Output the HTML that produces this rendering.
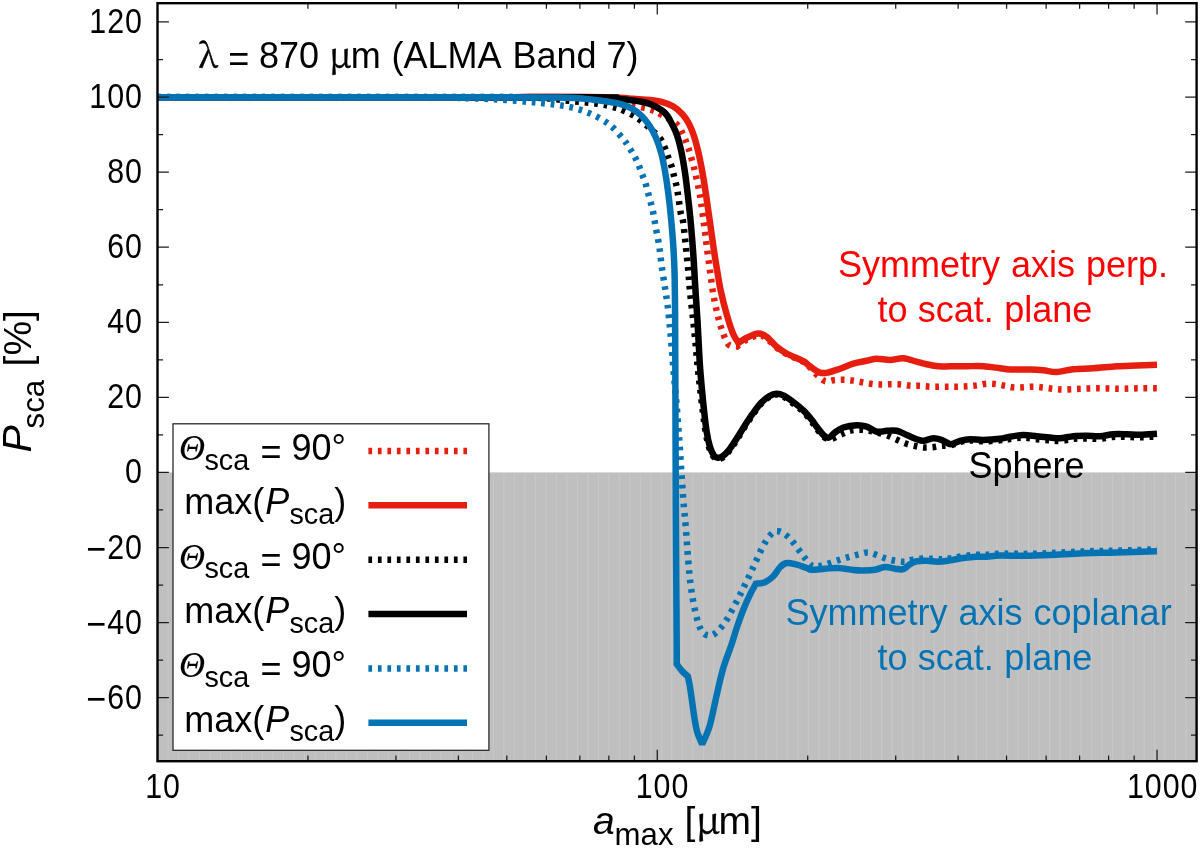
<!DOCTYPE html>
<html lang="en"><head><meta charset="utf-8"><title>Psca vs amax</title>
<style>
html,body{margin:0;padding:0;background:#fff;}
body{width:1200px;height:848px;overflow:hidden;}
svg{display:block;will-change:transform;}
text{font-family:"Liberation Sans",sans-serif;fill:#000;}
.sym{font-family:"Noto Serif CJK SC","Liberation Serif",serif;stroke:#000;stroke-width:0.5px;}
.symi{font-family:"Liberation Serif",serif;font-style:italic;stroke:#000;stroke-width:0.12px;}
.it{font-style:italic;}
</style></head><body>
<svg width="1200" height="848" viewBox="0 0 1200 848">
<rect x="0" y="0" width="1200" height="848" fill="#ffffff"/>
<rect x="157.50" y="472.45" width="1039.10" height="288.75" fill="#bfbfbf"/>
<path d="M168.00 472.45V761.20M178.49 472.45V761.20M188.99 472.45V761.20M199.48 472.45V761.20M209.98 472.45V761.20M220.48 472.45V761.20M230.97 472.45V761.20M241.47 472.45V761.20M251.96 472.45V761.20M262.46 472.45V761.20M272.96 472.45V761.20M283.45 472.45V761.20M293.95 472.45V761.20M304.44 472.45V761.20M314.94 472.45V761.20M325.44 472.45V761.20M335.93 472.45V761.20M346.43 472.45V761.20M356.92 472.45V761.20M367.42 472.45V761.20M377.92 472.45V761.20M388.41 472.45V761.20M398.91 472.45V761.20M409.40 472.45V761.20M419.90 472.45V761.20M430.39 472.45V761.20M440.89 472.45V761.20M451.39 472.45V761.20M461.88 472.45V761.20M472.38 472.45V761.20M482.87 472.45V761.20M493.37 472.45V761.20M503.87 472.45V761.20M514.36 472.45V761.20M524.86 472.45V761.20M535.35 472.45V761.20M545.85 472.45V761.20M556.35 472.45V761.20M566.84 472.45V761.20M577.34 472.45V761.20M587.83 472.45V761.20M598.33 472.45V761.20M608.83 472.45V761.20M619.32 472.45V761.20M629.82 472.45V761.20M640.31 472.45V761.20M650.81 472.45V761.20M661.31 472.45V761.20M671.80 472.45V761.20M682.30 472.45V761.20M692.79 472.45V761.20M703.29 472.45V761.20M713.79 472.45V761.20M724.28 472.45V761.20M734.78 472.45V761.20M745.27 472.45V761.20M755.77 472.45V761.20M766.27 472.45V761.20M776.76 472.45V761.20M787.26 472.45V761.20M797.75 472.45V761.20M808.25 472.45V761.20M818.75 472.45V761.20M829.24 472.45V761.20M839.74 472.45V761.20M850.23 472.45V761.20M860.73 472.45V761.20M871.23 472.45V761.20M881.72 472.45V761.20M892.22 472.45V761.20M902.71 472.45V761.20M913.21 472.45V761.20M923.71 472.45V761.20M934.20 472.45V761.20M944.70 472.45V761.20M955.19 472.45V761.20M965.69 472.45V761.20M976.18 472.45V761.20M986.68 472.45V761.20M997.18 472.45V761.20M1007.67 472.45V761.20M1018.17 472.45V761.20M1028.66 472.45V761.20M1039.16 472.45V761.20M1049.66 472.45V761.20M1060.15 472.45V761.20M1070.65 472.45V761.20M1081.14 472.45V761.20M1091.64 472.45V761.20M1102.14 472.45V761.20M1112.63 472.45V761.20M1123.13 472.45V761.20M1133.62 472.45V761.20M1144.12 472.45V761.20M1154.62 472.45V761.20M1165.11 472.45V761.20M1175.61 472.45V761.20M1186.10 472.45V761.20" stroke="#c9c9c9" stroke-width="1" fill="none"/>
<path d="M157.50 97.20C204.58 97.20 372.92 97.10 440.00 97.20C507.08 97.30 533.33 97.25 560.00 97.80C586.67 98.35 590.00 99.63 600.00 100.50C610.00 101.37 614.45 102.22 620.00 103.00C625.55 103.78 628.02 104.03 633.30 105.20C638.58 106.37 646.97 108.37 651.70 110.00C656.43 111.63 657.53 112.63 661.70 115.00C665.87 117.37 673.23 121.15 676.70 124.20C680.17 127.25 680.83 130.12 682.50 133.30C684.17 136.48 685.45 139.97 686.70 143.30C687.95 146.63 688.68 148.85 690.00 153.30C691.32 157.75 693.17 164.17 694.60 170.00C696.03 175.83 697.50 182.75 698.60 188.30C699.70 193.85 700.30 197.30 701.20 203.30C702.10 209.30 703.08 217.18 704.00 224.30C704.92 231.42 705.70 238.22 706.70 246.00C707.70 253.78 708.90 262.95 710.00 271.00C711.10 279.05 712.05 287.08 713.30 294.30C714.55 301.52 716.10 308.47 717.50 314.30C718.90 320.13 719.90 324.30 721.70 329.30C723.50 334.30 725.75 341.43 728.30 344.30C730.85 347.17 735.55 346.13 737.00 346.50L737.00 346.50C738.62 345.33 743.15 341.37 746.70 339.50C750.25 337.63 754.97 335.47 758.30 335.30C761.63 335.13 763.63 336.45 766.70 338.50C769.77 340.55 773.37 345.00 776.70 347.60C780.03 350.20 782.27 351.73 786.70 354.10C791.13 356.47 799.42 359.57 803.30 361.80C807.18 364.03 807.50 365.10 810.00 367.50C812.50 369.90 815.67 373.90 818.30 376.20C820.93 378.50 823.02 380.67 825.80 381.30C828.58 381.93 831.80 380.27 835.00 380.00C838.20 379.73 841.80 379.57 845.00 379.70C848.20 379.83 851.15 380.33 854.20 380.80C857.25 381.27 860.12 381.93 863.30 382.50C866.48 383.07 869.97 383.87 873.30 384.20C876.63 384.53 880.10 384.50 883.30 384.50C886.50 384.50 889.43 384.20 892.50 384.20C895.57 384.20 898.65 384.23 901.70 384.50C904.75 384.77 907.75 385.58 910.80 385.80C913.85 386.02 916.80 385.65 920.00 385.80C923.20 385.95 926.67 386.55 930.00 386.70C933.33 386.85 936.67 386.70 940.00 386.70C943.33 386.70 946.95 386.70 950.00 386.70C953.05 386.70 955.25 386.77 958.30 386.70C961.35 386.63 965.10 386.53 968.30 386.30C971.50 386.07 974.43 385.73 977.50 385.30C980.57 384.87 983.50 383.88 986.70 383.70C989.90 383.52 993.65 383.85 996.70 384.20C999.75 384.55 1001.95 385.25 1005.00 385.80C1008.05 386.35 1010.28 387.35 1015.00 387.50C1019.72 387.65 1028.58 386.70 1033.30 386.70C1038.02 386.70 1039.97 387.15 1043.30 387.50C1046.63 387.85 1049.97 388.47 1053.30 388.80C1056.63 389.13 1058.85 389.50 1063.30 389.50C1067.75 389.50 1073.88 389.00 1080.00 388.80C1086.12 388.60 1093.33 388.32 1100.00 388.30C1106.67 388.28 1113.62 388.70 1120.00 388.70C1126.38 388.70 1132.13 388.37 1138.30 388.30C1144.47 388.23 1153.88 388.30 1157.00 388.30" fill="none" stroke="#e61e10" stroke-width="6.50" stroke-linejoin="miter" stroke-miterlimit="2.4" stroke-linecap="butt" stroke-dasharray="3.7 5.8"/>
<path d="M157.50 97.25C211.25 97.25 417.92 97.33 480.00 97.25C542.08 97.17 511.67 96.86 530.00 96.80C548.33 96.74 575.00 96.73 590.00 96.90C605.00 97.07 612.78 97.48 620.00 97.80C627.22 98.12 628.30 98.45 633.30 98.80C638.30 99.15 645.27 99.40 650.00 99.90C654.73 100.40 657.87 100.73 661.70 101.80C665.53 102.87 669.53 104.23 673.00 106.30C676.47 108.37 679.80 111.22 682.50 114.20C685.20 117.18 687.25 120.45 689.20 124.20C691.15 127.95 692.63 131.85 694.20 136.70C695.77 141.55 697.20 147.20 698.60 153.30C700.00 159.40 701.40 166.63 702.60 173.30C703.80 179.97 704.60 185.35 705.80 193.30C707.00 201.25 708.55 212.22 709.80 221.00C711.05 229.78 712.15 238.22 713.30 246.00C714.45 253.78 715.45 260.20 716.70 267.70C717.95 275.20 719.13 283.23 720.80 291.00C722.47 298.77 724.62 307.08 726.70 314.30C728.78 321.52 731.32 329.55 733.30 334.30C735.28 339.05 737.72 341.38 738.60 342.80L738.60 342.80C739.95 341.95 743.42 339.25 746.70 337.70C749.98 336.15 754.97 333.65 758.30 333.50C761.63 333.35 763.63 334.58 766.70 336.80C769.77 339.02 773.37 344.02 776.70 346.80C780.03 349.58 782.27 351.10 786.70 353.50C791.13 355.90 799.42 359.07 803.30 361.20C807.18 363.33 807.22 364.40 810.00 366.30C812.78 368.20 816.95 371.57 820.00 372.60C823.05 373.63 824.97 373.15 828.30 372.50C831.63 371.85 835.83 370.17 840.00 368.70C844.17 367.23 848.85 365.02 853.30 363.70C857.75 362.38 862.80 361.63 866.70 360.80C870.60 359.97 872.82 358.83 876.70 358.70C880.58 358.57 885.57 360.07 890.00 360.00C894.43 359.93 898.85 358.02 903.30 358.30C907.75 358.58 912.80 360.72 916.70 361.70C920.60 362.68 923.10 363.43 926.70 364.20C930.30 364.97 934.42 365.95 938.30 366.30C942.18 366.65 945.27 366.32 950.00 366.30C954.73 366.28 961.15 366.22 966.70 366.20C972.25 366.18 977.75 365.87 983.30 366.20C988.85 366.53 995.55 367.65 1000.00 368.20C1004.45 368.75 1005.00 369.28 1010.00 369.50C1015.00 369.72 1024.45 369.37 1030.00 369.50C1035.55 369.63 1038.85 369.88 1043.30 370.30C1047.75 370.72 1051.70 372.18 1056.70 372.00C1061.70 371.82 1067.20 369.82 1073.30 369.20C1079.40 368.58 1086.07 368.78 1093.30 368.30C1100.53 367.82 1109.47 366.77 1116.70 366.30C1123.93 365.83 1129.98 365.77 1136.70 365.50C1143.42 365.23 1153.62 364.83 1157.00 364.70" fill="none" stroke="#e61e10" stroke-width="6.50" stroke-linejoin="miter" stroke-miterlimit="2.4" stroke-linecap="butt"/>
<path d="M157.50 96.95C204.58 96.95 379.58 96.91 440.00 96.95C500.42 96.99 502.00 96.96 520.00 97.20C538.00 97.44 539.95 97.82 548.00 98.40C556.05 98.98 560.18 99.82 568.30 100.70C576.42 101.58 588.92 102.57 596.70 103.70C604.48 104.83 610.57 106.37 615.00 107.50C619.43 108.63 620.38 109.25 623.30 110.50C626.22 111.75 629.72 113.42 632.50 115.00C635.28 116.58 637.08 117.78 640.00 120.00C642.92 122.22 646.67 125.25 650.00 128.30C653.33 131.35 657.50 134.97 660.00 138.30C662.50 141.63 663.62 145.10 665.00 148.30C666.38 151.50 667.18 154.43 668.30 157.50C669.42 160.57 670.72 163.50 671.70 166.70C672.68 169.90 673.37 173.37 674.20 176.70C675.03 180.03 676.02 183.37 676.70 186.70C677.38 190.03 677.62 192.27 678.30 196.70C678.98 201.13 680.02 209.25 680.80 213.30C681.58 217.35 682.17 215.55 683.00 221.00C683.83 226.45 684.92 237.67 685.80 246.00C686.68 254.33 687.55 262.95 688.30 271.00C689.05 279.05 689.47 285.97 690.30 294.30C691.13 302.63 692.38 312.38 693.30 321.00C694.22 329.62 695.15 339.17 695.80 346.00C696.45 352.83 696.52 355.17 697.20 362.00C697.88 368.83 698.95 378.67 699.90 387.00C700.85 395.33 701.95 404.50 702.90 412.00C703.85 419.50 704.58 426.17 705.60 432.00C706.62 437.83 707.73 442.97 709.00 447.00C710.27 451.03 711.70 454.23 713.20 456.20C714.70 458.17 716.32 458.65 718.00 458.80C719.68 458.95 721.33 458.55 723.30 457.10C725.27 455.65 727.60 452.93 729.80 450.10C732.00 447.27 734.00 444.00 736.50 440.10C739.00 436.20 742.03 431.02 744.80 426.70C747.57 422.38 750.32 418.10 753.10 414.20C755.88 410.30 758.73 406.23 761.50 403.30C764.27 400.37 767.22 398.08 769.70 396.60C772.18 395.12 774.13 394.42 776.40 394.40C778.67 394.38 780.53 394.98 783.30 396.50C786.07 398.02 789.72 401.00 793.00 403.50C796.28 406.00 800.00 408.63 803.00 411.50C806.00 414.37 808.83 418.00 811.00 420.70C813.17 423.40 813.92 425.02 816.00 427.70C818.08 430.38 821.30 434.92 823.50 436.80C825.70 438.68 827.57 438.75 829.20 439.00C830.83 439.25 831.22 439.10 833.30 438.30C835.38 437.50 838.92 435.45 841.70 434.20C844.48 432.95 846.95 431.55 850.00 430.80C853.05 430.05 856.80 429.70 860.00 429.70C863.20 429.70 866.42 430.33 869.20 430.80C871.98 431.27 873.78 431.75 876.70 432.50C879.62 433.25 883.52 434.18 886.70 435.30C889.88 436.42 892.75 437.87 895.80 439.20C898.85 440.53 901.93 442.20 905.00 443.30C908.07 444.40 911.15 445.10 914.20 445.80C917.25 446.50 920.25 447.27 923.30 447.50C926.35 447.73 929.43 447.48 932.50 447.20C935.57 446.92 938.65 446.13 941.70 445.80C944.75 445.47 947.75 445.83 950.80 445.20C953.85 444.57 956.80 442.80 960.00 442.00C963.20 441.20 966.12 440.52 970.00 440.40C973.88 440.28 978.30 441.32 983.30 441.30C988.30 441.28 995.55 440.70 1000.00 440.30C1004.45 439.90 1006.12 439.35 1010.00 438.90C1013.88 438.45 1018.85 437.55 1023.30 437.60C1027.75 437.65 1032.25 438.73 1036.70 439.20C1041.15 439.67 1046.12 440.10 1050.00 440.40C1053.88 440.70 1056.12 441.25 1060.00 441.00C1063.88 440.75 1068.85 439.33 1073.30 438.90C1077.75 438.47 1082.25 438.42 1086.70 438.40C1091.15 438.38 1095.57 439.05 1100.00 438.80C1104.43 438.55 1108.85 437.22 1113.30 436.90C1117.75 436.58 1122.25 436.83 1126.70 436.90C1131.15 436.97 1134.95 437.38 1140.00 437.30C1145.05 437.22 1154.17 436.55 1157.00 436.40" fill="none" stroke="#000000" stroke-width="6.50" stroke-linejoin="miter" stroke-miterlimit="2.4" stroke-linecap="butt" stroke-dasharray="3.7 5.8"/>
<path d="M157.50 97.20C227.92 97.22 506.25 97.20 580.00 97.30C653.75 97.40 593.33 97.52 600.00 97.80C606.67 98.08 613.88 98.48 620.00 99.00C626.12 99.52 631.70 100.07 636.70 100.90C641.70 101.73 645.37 102.07 650.00 104.00C654.63 105.93 660.75 109.00 664.50 112.50C668.25 116.00 670.33 120.97 672.50 125.00C674.67 129.03 675.97 131.98 677.50 136.70C679.03 141.42 680.43 147.20 681.70 153.30C682.97 159.40 684.12 166.63 685.10 173.30C686.08 179.97 686.68 185.35 687.60 193.30C688.52 201.25 689.65 210.83 690.60 221.00C691.55 231.17 692.52 243.18 693.30 254.30C694.08 265.42 694.60 276.58 695.30 287.70C696.00 298.82 696.77 308.62 697.50 321.00C698.23 333.38 699.00 351.00 699.70 362.00C700.40 373.00 700.95 378.67 701.70 387.00C702.45 395.33 703.37 404.50 704.20 412.00C705.03 419.50 705.73 426.17 706.70 432.00C707.67 437.83 708.82 443.12 710.00 447.00C711.18 450.88 712.50 453.52 713.80 455.30C715.10 457.08 716.30 457.55 717.80 457.70C719.30 457.85 720.87 457.57 722.80 456.20C724.73 454.83 727.18 452.28 729.40 449.50C731.62 446.72 733.60 443.38 736.10 439.50C738.60 435.62 741.63 430.50 744.40 426.20C747.17 421.90 749.90 417.60 752.70 413.70C755.50 409.80 758.38 405.75 761.20 402.80C764.02 399.85 767.08 397.52 769.60 396.00C772.12 394.48 774.02 393.82 776.30 393.70C778.58 393.58 780.47 393.92 783.30 395.30C786.13 396.68 789.97 399.50 793.30 402.00C796.63 404.50 800.23 407.35 803.30 410.30C806.37 413.25 809.47 416.97 811.70 419.70C813.93 422.43 814.62 424.02 816.70 426.70C818.78 429.38 822.12 434.00 824.20 435.80C826.28 437.60 827.40 438.05 829.20 437.50C831.00 436.95 832.65 434.17 835.00 432.50C837.35 430.83 839.68 428.70 843.30 427.50C846.92 426.30 852.80 425.43 856.70 425.30C860.60 425.17 863.37 425.63 866.70 426.70C870.03 427.77 873.37 431.02 876.70 431.70C880.03 432.38 883.37 430.95 886.70 430.80C890.03 430.65 893.37 430.10 896.70 430.80C900.03 431.50 903.37 433.60 906.70 435.00C910.03 436.40 913.93 438.23 916.70 439.20C919.47 440.17 920.53 440.95 923.30 440.80C926.07 440.65 930.23 438.43 933.30 438.30C936.37 438.17 938.78 439.02 941.70 440.00C944.62 440.98 947.75 444.07 950.80 444.20C953.85 444.33 956.80 441.63 960.00 440.80C963.20 439.97 966.12 439.33 970.00 439.20C973.88 439.07 978.30 440.07 983.30 440.00C988.30 439.93 995.55 439.35 1000.00 438.80C1004.45 438.25 1006.12 437.33 1010.00 436.70C1013.88 436.07 1018.85 435.07 1023.30 435.00C1027.75 434.93 1032.25 435.88 1036.70 436.30C1041.15 436.72 1046.12 437.17 1050.00 437.50C1053.88 437.83 1056.12 438.52 1060.00 438.30C1063.88 438.08 1068.85 436.62 1073.30 436.20C1077.75 435.78 1082.25 435.80 1086.70 435.80C1091.15 435.80 1095.57 436.47 1100.00 436.20C1104.43 435.93 1108.85 434.53 1113.30 434.20C1117.75 433.87 1122.25 434.12 1126.70 434.20C1131.15 434.28 1134.95 434.78 1140.00 434.70C1145.05 434.62 1154.17 433.87 1157.00 433.70" fill="none" stroke="#000000" stroke-width="6.50" stroke-linejoin="miter" stroke-miterlimit="2.4" stroke-linecap="butt"/>
<path d="M157.50 97.70C204.58 97.70 389.58 97.65 440.00 97.70C490.42 97.75 451.12 97.75 460.00 98.00C468.88 98.25 482.18 98.58 493.30 99.20C504.42 99.82 518.37 101.02 526.70 101.70C535.03 102.38 537.75 102.70 543.30 103.30C548.85 103.90 554.43 104.40 560.00 105.30C565.57 106.20 571.15 107.08 576.70 108.70C582.25 110.32 587.75 112.28 593.30 115.00C598.85 117.72 605.00 120.97 610.00 125.00C615.00 129.03 620.10 135.45 623.30 139.20C626.50 142.95 627.38 144.73 629.20 147.50C631.02 150.27 632.68 153.02 634.20 155.80C635.72 158.58 637.05 161.28 638.30 164.20C639.55 167.12 640.58 170.38 641.70 173.30C642.82 176.22 644.03 178.78 645.00 181.70C645.97 184.62 646.67 187.75 647.50 190.80C648.33 193.85 649.17 196.93 650.00 200.00C650.83 203.07 651.80 206.15 652.50 209.20C653.20 212.25 653.65 215.22 654.20 218.30C654.75 221.38 654.97 223.08 655.80 227.70C656.63 232.32 658.22 239.62 659.20 246.00C660.18 252.38 660.73 259.05 661.70 266.00C662.67 272.95 664.03 281.32 665.00 287.70C665.97 294.08 666.78 298.75 667.50 304.30C668.22 309.85 668.82 316.30 669.30 321.00C669.78 325.70 669.95 327.50 670.40 332.50C670.85 337.50 671.48 344.75 672.00 351.00C672.52 357.25 672.98 363.83 673.50 370.00C674.02 376.17 674.55 381.83 675.10 388.00C675.65 394.17 676.25 400.22 676.80 407.00C677.35 413.78 677.92 422.32 678.40 428.70C678.88 435.08 679.28 439.20 679.70 445.30C680.12 451.40 680.48 458.90 680.90 465.30C681.32 471.70 681.75 477.42 682.20 483.70C682.65 489.98 683.00 495.62 683.60 503.00C684.20 510.38 685.02 518.28 685.80 528.00C686.58 537.72 687.47 551.58 688.30 561.30C689.13 571.02 689.82 578.80 690.80 586.30C691.78 593.80 692.95 600.18 694.20 606.30C695.45 612.42 696.78 618.55 698.30 623.00C699.82 627.45 701.22 630.92 703.30 633.00C705.38 635.08 708.30 635.92 710.80 635.50C713.30 635.08 715.65 633.13 718.30 630.50C720.95 627.87 723.63 624.57 726.70 619.70C729.77 614.83 733.65 607.13 736.70 601.30C739.75 595.47 742.23 590.38 745.00 584.70C747.77 579.02 750.52 573.18 753.30 567.20C756.08 561.22 759.28 553.63 761.70 548.80C764.12 543.97 765.75 541.02 767.80 538.20C769.85 535.38 772.22 533.05 774.00 531.90C775.78 530.75 776.95 531.08 778.50 531.30C780.05 531.52 781.35 531.95 783.30 533.20C785.25 534.45 787.95 536.47 790.20 538.80C792.45 541.13 794.58 544.28 796.80 547.20C799.02 550.12 801.38 553.57 803.50 556.30C805.62 559.03 807.75 561.92 809.50 563.60C811.25 565.28 811.97 566.07 814.00 566.40C816.03 566.73 818.75 566.27 821.70 565.60C824.65 564.93 828.52 563.43 831.70 562.40C834.88 561.37 837.75 560.35 840.80 559.40C843.85 558.45 846.93 557.57 850.00 556.70C853.07 555.83 856.15 554.90 859.20 554.20C862.25 553.50 865.25 552.32 868.30 552.50C871.35 552.68 874.43 554.27 877.50 555.30C880.57 556.33 883.65 557.78 886.70 558.70C889.75 559.62 892.75 560.30 895.80 560.80C898.85 561.30 902.08 561.90 905.00 561.70C907.92 561.50 910.25 560.12 913.30 559.60C916.35 559.08 919.97 558.73 923.30 558.60C926.63 558.47 930.10 558.68 933.30 558.80C936.50 558.92 939.43 559.40 942.50 559.30C945.57 559.20 948.23 558.73 951.70 558.20C955.17 557.67 959.13 556.67 963.30 556.10C967.47 555.53 972.80 555.02 976.70 554.80C980.60 554.58 982.82 555.00 986.70 554.80C990.58 554.60 993.62 553.75 1000.00 553.60C1006.38 553.45 1016.67 553.98 1025.00 553.90C1033.33 553.82 1040.28 553.52 1050.00 553.10C1059.72 552.68 1072.18 551.82 1083.30 551.40C1094.42 550.98 1104.42 550.93 1116.70 550.60C1128.98 550.27 1150.28 549.60 1157.00 549.40" fill="none" stroke="#0473b4" stroke-width="6.50" stroke-linejoin="miter" stroke-miterlimit="2.4" stroke-linecap="butt" stroke-dasharray="3.7 5.8"/>
<path d="M157.50 97.20C207.92 97.20 392.92 97.15 460.00 97.20C527.08 97.25 537.78 97.08 560.00 97.50C582.22 97.92 584.97 98.95 593.30 99.70C601.63 100.45 605.55 101.32 610.00 102.00C614.45 102.68 616.38 102.75 620.00 103.80C623.62 104.85 628.12 106.30 631.70 108.30C635.28 110.30 638.52 112.88 641.50 115.80C644.48 118.72 647.15 122.05 649.60 125.80C652.05 129.55 654.25 133.72 656.20 138.30C658.15 142.88 659.87 148.02 661.30 153.30C662.73 158.58 663.63 163.33 664.80 170.00C665.97 176.67 667.22 184.80 668.30 193.30C669.38 201.80 670.47 212.22 671.30 221.00C672.13 229.78 672.77 237.67 673.30 246.00C673.83 254.33 674.22 261.28 674.50 271.00C674.78 280.72 674.87 289.13 675.00 304.30C675.13 319.47 675.17 328.88 675.30 362.00C675.43 395.12 675.57 456.00 675.80 503.00C676.03 550.00 676.55 617.17 676.70 644.00C676.85 670.83 676.70 660.67 676.70 664.00L676.70 664.00C677.67 665.25 680.63 669.43 682.50 671.50C684.37 673.57 687.00 675.58 687.90 676.40L687.90 676.40C688.22 677.95 689.08 681.38 689.80 685.70C690.52 690.02 691.40 696.75 692.20 702.30C693.00 707.85 693.77 714.05 694.60 719.00C695.43 723.95 695.93 727.80 697.20 732.00C698.47 736.20 701.37 742.17 702.20 744.20L702.20 744.20C703.45 741.13 707.28 734.00 709.70 725.80C712.12 717.60 714.48 704.47 716.70 695.00C718.92 685.53 720.50 677.50 723.00 669.00C725.50 660.50 729.42 650.83 731.70 644.00C733.98 637.17 734.77 633.72 736.70 628.00C738.63 622.28 741.08 615.25 743.30 609.70C745.52 604.15 747.92 599.02 750.00 594.70C752.08 590.38 754.83 585.62 755.80 583.80L755.80 583.80C757.33 583.53 762.08 583.45 765.00 582.20C767.92 580.95 770.80 578.80 773.30 576.30C775.80 573.80 777.77 569.42 780.00 567.20C782.23 564.98 783.92 563.42 786.70 563.00C789.48 562.58 793.37 563.87 796.70 564.70C800.03 565.53 804.20 567.17 806.70 568.00C809.20 568.83 808.65 569.58 811.70 569.70C814.75 569.82 820.57 568.98 825.00 568.70C829.43 568.42 833.58 567.78 838.30 568.00C843.02 568.22 849.13 569.58 853.30 570.00C857.47 570.42 859.68 570.55 863.30 570.50C866.92 570.45 871.38 570.28 875.00 569.70C878.62 569.12 881.67 567.17 885.00 567.00C888.33 566.83 891.95 568.33 895.00 568.70C898.05 569.07 900.80 569.95 903.30 569.20C905.80 568.45 907.77 565.52 910.00 564.20C912.23 562.88 913.92 561.87 916.70 561.30C919.48 560.73 923.10 560.73 926.70 560.80C930.30 560.87 934.42 561.78 938.30 561.70C942.18 561.62 945.83 560.92 950.00 560.30C954.17 559.68 958.85 558.60 963.30 558.00C967.75 557.40 972.80 556.92 976.70 556.70C980.60 556.48 982.82 556.90 986.70 556.70C990.58 556.50 993.62 555.65 1000.00 555.50C1006.38 555.35 1016.67 555.88 1025.00 555.80C1033.33 555.72 1040.28 555.42 1050.00 555.00C1059.72 554.58 1072.18 553.72 1083.30 553.30C1094.42 552.88 1104.42 552.83 1116.70 552.50C1128.98 552.17 1150.28 551.50 1157.00 551.30" fill="none" stroke="#0473b4" stroke-width="6.50" stroke-linejoin="miter" stroke-miterlimit="2.4" stroke-linecap="butt"/>
<path d="M157.50 735.23h5.60M1196.60 735.23h-5.60M157.50 697.69h11.40M1196.60 697.69h-11.40M157.50 660.15h5.60M1196.60 660.15h-5.60M157.50 622.61h11.40M1196.60 622.61h-11.40M157.50 585.07h5.60M1196.60 585.07h-5.60M157.50 547.53h11.40M1196.60 547.53h-11.40M157.50 509.99h5.60M1196.60 509.99h-5.60M157.50 472.45h11.40M1196.60 472.45h-11.40M157.50 434.91h5.60M1196.60 434.91h-5.60M157.50 397.37h11.40M1196.60 397.37h-11.40M157.50 359.83h5.60M1196.60 359.83h-5.60M157.50 322.29h11.40M1196.60 322.29h-11.40M157.50 284.75h5.60M1196.60 284.75h-5.60M157.50 247.21h11.40M1196.60 247.21h-11.40M157.50 209.67h5.60M1196.60 209.67h-5.60M157.50 172.13h11.40M1196.60 172.13h-11.40M157.50 134.59h5.60M1196.60 134.59h-5.60M157.50 97.05h11.40M1196.60 97.05h-11.40M157.50 59.51h5.60M1196.60 59.51h-5.60M157.50 21.97h11.40M1196.60 21.97h-11.40M307.94 761.20v-5.60M307.94 3.20v5.60M395.95 761.20v-5.60M395.95 3.20v5.60M458.39 761.20v-5.60M458.39 3.20v5.60M506.82 761.20v-5.60M506.82 3.20v5.60M546.39 761.20v-5.60M546.39 3.20v5.60M579.85 761.20v-5.60M579.85 3.20v5.60M608.83 761.20v-5.60M608.83 3.20v5.60M634.40 761.20v-5.60M634.40 3.20v5.60M657.26 761.20v-11.40M657.26 3.20v11.40M807.71 761.20v-5.60M807.71 3.20v5.60M895.71 761.20v-5.60M895.71 3.20v5.60M958.15 761.20v-5.60M958.15 3.20v5.60M1006.58 761.20v-5.60M1006.58 3.20v5.60M1046.16 761.20v-5.60M1046.16 3.20v5.60M1079.61 761.20v-5.60M1079.61 3.20v5.60M1108.60 761.20v-5.60M1108.60 3.20v5.60M1134.16 761.20v-5.60M1134.16 3.20v5.60M1157.03 761.20v-11.40M1157.03 3.20v11.40" stroke="#1c1c1c" stroke-width="1.25" fill="none"/>
<rect x="157.50" y="3.20" width="1039.10" height="758.00" fill="none" stroke="#000" stroke-width="2.4"/>
<text transform="translate(142.90 708.69) scale(0.9500 1.0700)" font-size="32" text-anchor="end" letter-spacing="1.00"><tspan font-size="36" dy="3.3">−</tspan><tspan dy="-3.3">60</tspan></text>
<text transform="translate(142.90 633.61) scale(0.9500 1.0700)" font-size="32" text-anchor="end" letter-spacing="1.00"><tspan font-size="36" dy="3.3">−</tspan><tspan dy="-3.3">40</tspan></text>
<text transform="translate(142.90 558.53) scale(0.9500 1.0700)" font-size="32" text-anchor="end" letter-spacing="1.00"><tspan font-size="36" dy="3.3">−</tspan><tspan dy="-3.3">20</tspan></text>
<text transform="translate(142.90 483.45) scale(0.9500 1.0700)" font-size="32" text-anchor="end" letter-spacing="1.00">0</text>
<text transform="translate(142.90 408.37) scale(0.9500 1.0700)" font-size="32" text-anchor="end" letter-spacing="1.00">20</text>
<text transform="translate(142.90 333.29) scale(0.9500 1.0700)" font-size="32" text-anchor="end" letter-spacing="1.00">40</text>
<text transform="translate(142.90 258.21) scale(0.9500 1.0700)" font-size="32" text-anchor="end" letter-spacing="1.00">60</text>
<text transform="translate(142.90 183.13) scale(0.9500 1.0700)" font-size="32" text-anchor="end" letter-spacing="1.00">80</text>
<text transform="translate(142.90 108.05) scale(0.9500 1.0700)" font-size="32" text-anchor="end" letter-spacing="1.00">100</text>
<text transform="translate(142.90 32.97) scale(0.9500 1.0700)" font-size="32" text-anchor="end" letter-spacing="1.00">120</text>
<text transform="translate(163.00 798.30) scale(0.9500 1.0700)" font-size="32" text-anchor="middle" letter-spacing="1.00">10</text>
<text transform="translate(662.46 798.30) scale(0.9500 1.0700)" font-size="32" text-anchor="middle" letter-spacing="1.00">100</text>
<text transform="translate(1162.63 798.30) scale(0.9500 1.0700)" font-size="32" text-anchor="middle" letter-spacing="1.00">1000</text>
<text y="833.7" font-size="39"><tspan class="it" x="593.0">a</tspan><tspan font-size="31.2" x="614.6" dy="11.2">max</tspan><tspan x="684.5" dy="-11.2">[</tspan><tspan class="sym" x="695.8">µ</tspan><tspan x="718.6">m]</tspan></text>
<text transform="translate(31.2 451.4) rotate(-90)" font-size="39"><tspan class="it" font-size="41" x="-1">P</tspan><tspan font-size="31.2" x="23.0" dy="12.8">sca</tspan><tspan x="85.0" dy="-12.8">[%]</tspan></text>
<text y="67.90" font-size="36"><tspan class="sym" x="198.6" font-size="33.5">λ</tspan><tspan x="228.2" dy="3.2">=</tspan><tspan x="258.9" dy="-3.2">870</tspan><tspan class="sym" x="329.0">µ</tspan><tspan x="350.7">m</tspan><tspan x="391.5">(ALMA</tspan><tspan x="512.5">Band</tspan><tspan x="606.5">7)</tspan></text>
<text x="838.00" y="276.90" font-size="36" text-anchor="start" style="fill:#ff0000" word-spacing="1">Symmetry axis perp.</text>
<text x="877.50" y="322.00" font-size="36" text-anchor="start" style="fill:#ff0000" word-spacing="0.3">to scat. plane</text>
<text x="968.50" y="477.50" font-size="36" text-anchor="start">Sphere</text>
<text x="785.50" y="624.80" font-size="36" text-anchor="start" style="fill:#0473b4" word-spacing="1">Symmetry axis coplanar</text>
<text x="877.50" y="669.80" font-size="36" text-anchor="start" style="fill:#0473b4" word-spacing="0.3">to scat. plane</text>
<rect x="173.0" y="423.8" width="315.9" height="326.5" fill="#fff" stroke="#2b2b2b" stroke-width="1.3"/>
<path d="M368.4 451.00H467.0" stroke="#e61e10" stroke-width="6.50" fill="none" stroke-dasharray="3.7 5.8"/>
<text x="346.8" y="460.00" font-size="36" text-anchor="end"><tspan class="symi" dx="-0.8">Θ</tspan><tspan font-size="28.8" dy="9.7" dx="-0.5">sca</tspan><tspan dy="-6.2" dx="1.3"> = </tspan><tspan dy="-3.5">90°</tspan></text>
<path d="M368.4 505.30H467.0" stroke="#e61e10" stroke-width="6.50" fill="none"/>
<text x="346.2" y="514.30" font-size="36" text-anchor="end">max(<tspan class="it" dx="1.2">P</tspan><tspan font-size="28.8" dy="9.7">sca</tspan><tspan dy="-9.7">)</tspan></text>
<path d="M368.4 559.70H467.0" stroke="#000000" stroke-width="6.50" fill="none" stroke-dasharray="3.7 5.8"/>
<text x="346.8" y="568.70" font-size="36" text-anchor="end"><tspan class="symi" dx="-0.8">Θ</tspan><tspan font-size="28.8" dy="9.7" dx="-0.5">sca</tspan><tspan dy="-6.2" dx="1.3"> = </tspan><tspan dy="-3.5">90°</tspan></text>
<path d="M368.4 614.10H467.0" stroke="#000000" stroke-width="6.50" fill="none"/>
<text x="346.2" y="623.10" font-size="36" text-anchor="end">max(<tspan class="it" dx="1.2">P</tspan><tspan font-size="28.8" dy="9.7">sca</tspan><tspan dy="-9.7">)</tspan></text>
<path d="M368.4 668.40H467.0" stroke="#0473b4" stroke-width="6.50" fill="none" stroke-dasharray="3.7 5.8"/>
<text x="346.8" y="677.40" font-size="36" text-anchor="end"><tspan class="symi" dx="-0.8">Θ</tspan><tspan font-size="28.8" dy="9.7" dx="-0.5">sca</tspan><tspan dy="-6.2" dx="1.3"> = </tspan><tspan dy="-3.5">90°</tspan></text>
<path d="M368.4 722.70H467.0" stroke="#0473b4" stroke-width="6.50" fill="none"/>
<text x="346.2" y="731.70" font-size="36" text-anchor="end">max(<tspan class="it" dx="1.2">P</tspan><tspan font-size="28.8" dy="9.7">sca</tspan><tspan dy="-9.7">)</tspan></text>
</svg></body></html>
